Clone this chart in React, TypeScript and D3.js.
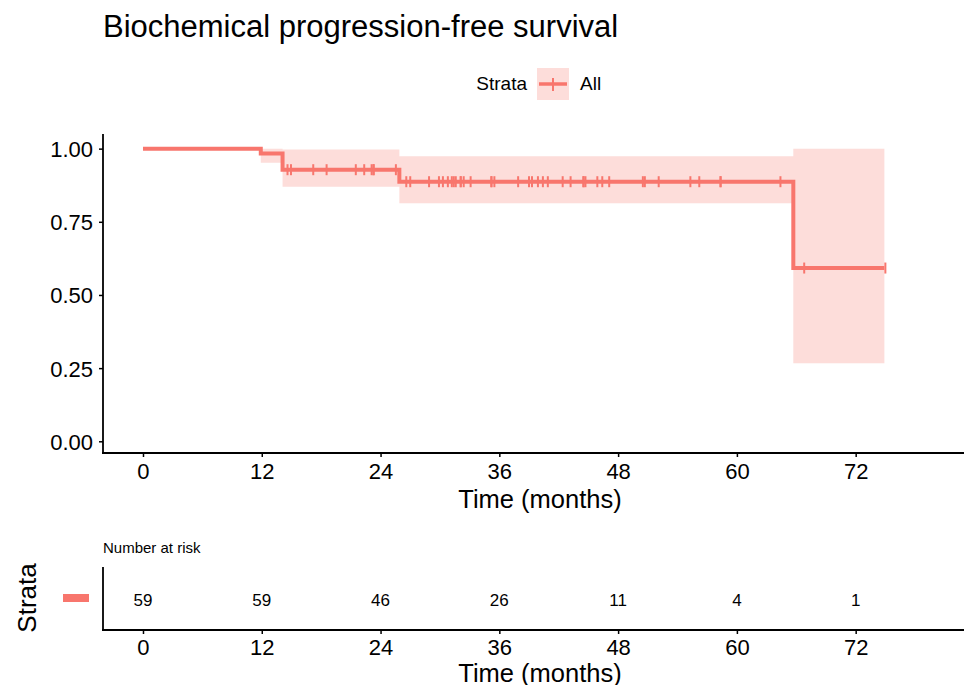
import * as d3 from 'd3';
import React, { useRef, useEffect } from 'react';

// KM step function
const stepTimes = [0, 11.9, 14.1, 25.9, 65.7];
const survival = [1.0, 0.983, 0.928, 0.887, 0.592];
const lowerCI = [1.0, 0.952, 0.87, 0.813, 0.267];
const upperCI = [1.0, 1.0, 0.997, 0.974, 1.0];
const endTime = 74.9;

// censoring times (months)
const censorTimes = [
  14.6, 14.95, 17.2, 18.55, 21.5, 22.35, 23.1, 23.3, 23.3, 25.55,
  26.6, 27.0, 28.9, 29.9, 30.3, 30.8, 31.2, 31.4, 31.6, 32.1, 32.1, 32.4, 33.1, 35.2, 35.2, 35.5,
  37.9, 39.0, 39.3, 39.9, 40.4, 40.9, 42.4, 43.2, 44.5, 44.5, 44.7, 45.9, 46.4, 47.1,
  50.5, 50.7, 52.1, 55.3, 56.2, 58.35, 58.35, 64.4, 66.8, 75.0,
];

const riskTimes = [0, 12, 24, 36, 48, 60, 72];
const riskCounts = [59, 59, 46, 26, 11, 4, 1];
const yTicks = [0, 0.25, 0.5, 0.75, 1.0];
const xTicks = [0, 12, 24, 36, 48, 60, 72];

const COL = '#F8766D';
const FONT = "'Liberation Sans', Arial, sans-serif";

function Chart({ width, height }: { width: number; height: number }) {
  const ref = useRef<SVGSVGElement>(null);

  useEffect(() => {
    const svg = d3.select(ref.current);
    svg.selectAll('*').remove();
    svg.attr('width', width).attr('height', height).style('font-family', FONT);

    const x = d3.scaleLinear().domain([-4.04, 83.55]).range([103, 970]);
    const y = d3.scaleLinear().domain([-0.04, 1.05]).range([453, 134]);

    const survAt = (t: number) => {
      let s = survival[0];
      stepTimes.forEach((st, i) => { if (t >= st) s = survival[i]; });
      return s;
    };

    // title
    svg.append('text').attr('x', 103).attr('y', 37).attr('font-size', 31)
      .attr('fill', '#000').text('Biochemical progression-free survival');

    // legend
    svg.append('text').attr('x', 527).attr('y', 90).attr('font-size', 19)
      .attr('text-anchor', 'end').text('Strata');
    svg.append('rect').attr('x', 537).attr('y', 68).attr('width', 32).attr('height', 32)
      .attr('fill', COL).attr('fill-opacity', 0.25);
    svg.append('line').attr('x1', 539).attr('x2', 567).attr('y1', 84).attr('y2', 84)
      .attr('stroke', COL).attr('stroke-width', 3.5);
    svg.append('line').attr('x1', 553).attr('x2', 553).attr('y1', 78).attr('y2', 91)
      .attr('stroke', COL).attr('stroke-width', 2);
    svg.append('text').attr('x', 580).attr('y', 90).attr('font-size', 19).text('All');

    // data for step curves
    const pts = stepTimes.map((t, i) => ({ t, s: survival[i], lo: lowerCI[i], hi: upperCI[i] }));
    pts.push({ t: endTime, s: survival[survival.length - 1], lo: lowerCI[lowerCI.length - 1], hi: upperCI[upperCI.length - 1] });

    const area = d3.area<any>().curve(d3.curveStepAfter)
      .x(d => x(d.t)).y0(d => y(d.lo)).y1(d => y(d.hi));
    svg.append('path').datum(pts).attr('d', area)
      .attr('fill', COL).attr('fill-opacity', 0.25);

    const line = d3.line<any>().curve(d3.curveStepAfter).x(d => x(d.t)).y(d => y(d.s));
    svg.append('path').datum(pts).attr('d', line)
      .attr('fill', 'none').attr('stroke', COL).attr('stroke-width', 4);

    svg.append('g').selectAll('line').data(censorTimes).enter().append('line')
      .attr('x1', d => x(d)).attr('x2', d => x(d))
      .attr('y1', d => y(survAt(d)) - 5.5).attr('y2', d => y(survAt(d)) + 5.5)
      .attr('stroke', COL).attr('stroke-width', 2);

    // axes main plot
    const yAxis = svg.append('g').attr('transform', 'translate(103,0)')
      .call(d3.axisLeft(y).tickValues(yTicks).tickFormat(d3.format('.2f')).tickSize(4).tickPadding(6));
    const xAxis = svg.append('g').attr('transform', 'translate(0,453)')
      .call(d3.axisBottom(x).tickValues(xTicks).tickFormat(d3.format('d')).tickSize(4).tickPadding(4));
    [yAxis, xAxis].forEach(a => {
      a.select('.domain').remove();
      a.selectAll('.tick line').attr('stroke', '#000').attr('stroke-width', 1.5);
      a.selectAll('.tick text').attr('font-size', 22).attr('fill', '#000').attr('font-family', FONT);
    });
    svg.append('line').attr('x1', 103).attr('x2', 103).attr('y1', 134).attr('y2', 454)
      .attr('stroke', '#000').attr('stroke-width', 1.8);
    svg.append('line').attr('x1', 102).attr('x2', 970).attr('y1', 453).attr('y2', 453)
      .attr('stroke', '#000').attr('stroke-width', 1.8);
    yAxis.selectAll('.tick text').attr('dy', '0.36em');
    xAxis.selectAll('.tick text').attr('dy', '0.71em').attr('y', 10);

    svg.append('text').attr('x', 540).attr('y', 508).attr('font-size', 25.5)
      .attr('text-anchor', 'middle').text('Time (months)');

    // risk table
    svg.append('text').attr('x', 103).attr('y', 553).attr('font-size', 15).text('Number at risk');
    svg.append('g').selectAll('text').data(riskCounts).enter().append('text')
      .attr('x', (d, i) => x(riskTimes[i])).attr('y', 600).attr('dy', '0.36em')
      .attr('text-anchor', 'middle').attr('font-size', 17).text(d => d);

    const rAxis = svg.append('g').attr('transform', 'translate(0,630)')
      .call(d3.axisBottom(x).tickValues(xTicks).tickFormat(d3.format('d')).tickSize(4).tickPadding(4));
    rAxis.select('.domain').remove();
    rAxis.selectAll('.tick line').attr('stroke', '#000').attr('stroke-width', 1.5);
    rAxis.selectAll('.tick text').attr('font-size', 22).attr('fill', '#000').attr('font-family', FONT)
      .attr('dy', '0.71em').attr('y', 9);
    svg.append('line').attr('x1', 103).attr('x2', 103).attr('y1', 567).attr('y2', 631)
      .attr('stroke', '#000').attr('stroke-width', 1.8);
    svg.append('line').attr('x1', 102).attr('x2', 970).attr('y1', 630).attr('y2', 630)
      .attr('stroke', '#000').attr('stroke-width', 1.8);

    svg.append('rect').attr('x', 63).attr('y', 594).attr('width', 26).attr('height', 8).attr('fill', COL);
    svg.append('text').attr('transform', 'translate(36,598) rotate(-90)')
      .attr('text-anchor', 'middle').attr('font-size', 26).text('Strata');

    svg.append('text').attr('x', 540).attr('y', 682).attr('font-size', 25.5)
      .attr('text-anchor', 'middle').text('Time (months)');
  }, [width, height]);

  return <svg ref={ref} style={{ display: 'block' }} />;
}

export default function App() {
  return (
    <div style={{ margin: -8 }}>
      <Chart width={972} height={693} />
    </div>
  );
}
